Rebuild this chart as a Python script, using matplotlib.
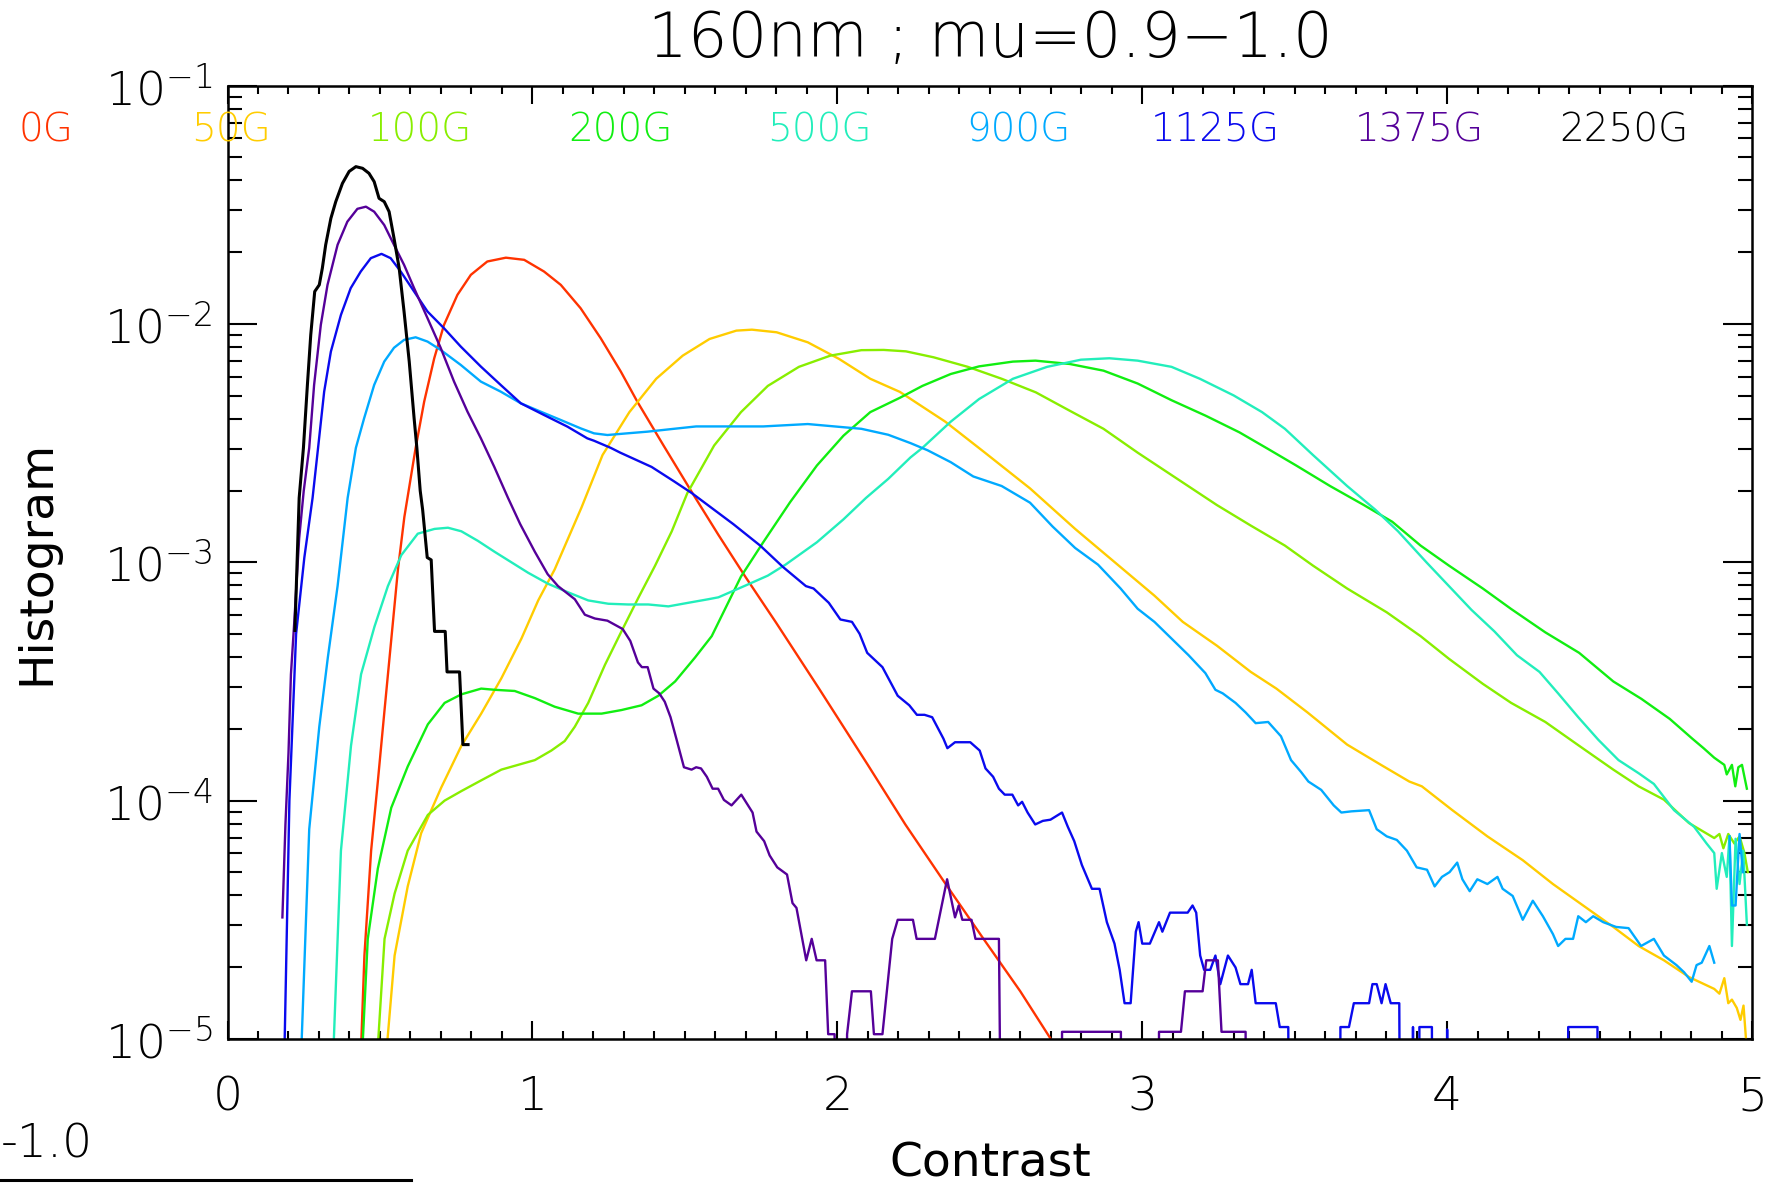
import numpy as np
import matplotlib
matplotlib.use("Agg")
import matplotlib.pyplot as plt
from matplotlib.ticker import MultipleLocator, LogLocator, FuncFormatter, NullFormatter
from matplotlib.lines import Line2D

plt.rcParams['font.family'] = ['DejaVu Sans']
plt.rcParams['font.weight'] = 'light'
plt.rcParams['mathtext.fontset'] = 'custom'
plt.rcParams['mathtext.rm'] = 'DejaVu Sans:light'
plt.rcParams['mathtext.default'] = 'rm'

# ---------------- data (x = contrast, logy = log10(histogram); -8 means empty bin) -------------
labels = ['0G', '50G', '100G', '200G', '500G', '900G', '1125G', '1375G', '2250G']
colors = ['#ff3300', '#ffcc00', '#88ee00', '#11ee11', '#22eebb', '#00aaff', '#0a0aee', '#550099', '#000000']

x_0G = [0.425, 0.449, 0.471, 0.493, 0.515, 0.537, 0.559, 0.580, 0.617, 0.645, 0.678, 0.710, 0.754, 0.798,
        0.852, 0.913, 0.973, 1.038, 1.093, 1.158, 1.224, 1.290, 1.344, 1.430, 1.523, 1.610, 1.698, 1.800,
        1.940, 2.100, 2.223, 2.350, 2.474, 2.600, 2.700, 2.750]
logy_0G = [-5.5, -4.65, -4.21, -3.92, -3.62, -3.325, -3.03, -2.81, -2.52, -2.326, -2.144, -2.004, -1.878, -1.794,
           -1.738, -1.722, -1.731, -1.78, -1.836, -1.934, -2.06, -2.20, -2.326, -2.51, -2.706, -2.885, -3.06, -3.255,
           -3.53, -3.85, -4.10, -4.34, -4.57, -4.80, -5.0, -5.1]

x_50G = [0.505, 0.548, 0.591, 0.635, 0.701, 0.767, 0.832, 0.898, 0.964, 1.019, 1.073, 1.117, 1.161, 1.230,
         1.318, 1.406, 1.493, 1.581, 1.669, 1.720, 1.801, 1.903, 2.006, 2.108, 2.205, 2.354, 2.484, 2.632,
         2.780, 2.910, 3.040, 3.133, 3.245, 3.356, 3.440, 3.542, 3.672, 3.783, 3.876, 3.917, 4.017, 4.132,
         4.248, 4.347, 4.446, 4.545, 4.628, 4.711, 4.793, 4.876, 4.893, 4.909, 4.922, 4.934, 4.950, 4.962,
         4.972, 4.983]
logy_50G = [-5.3, -4.65, -4.36, -4.137, -3.945, -3.77, -3.635, -3.487, -3.32, -3.16, -3.03, -2.90, -2.77, -2.55,
            -2.37, -2.23, -2.133, -2.063, -2.028, -2.024, -2.035, -2.077, -2.147, -2.23, -2.285, -2.41, -2.54, -2.69,
            -2.86, -3.0, -3.14, -3.25, -3.35, -3.46, -3.53, -3.63, -3.765, -3.85, -3.92, -3.94, -4.04, -4.15,
            -4.25, -4.35, -4.44, -4.53, -4.61, -4.67, -4.74, -4.79, -4.81, -4.745, -4.85, -4.835, -4.87, -4.92,
            -4.86, -5.05]

x_100G = [0.480, 0.515, 0.548, 0.591, 0.657, 0.712, 0.767, 0.832, 0.898, 0.953, 1.008, 1.062, 1.106, 1.139,
          1.183, 1.238, 1.292, 1.347, 1.402, 1.457, 1.508, 1.596, 1.684, 1.772, 1.874, 1.977, 2.079, 2.152,
          2.225, 2.316, 2.428, 2.539, 2.651, 2.762, 2.873, 2.985, 3.115, 3.245, 3.356, 3.468, 3.560, 3.672,
          3.802, 3.913, 4.006, 4.117, 4.210, 4.322, 4.433, 4.545, 4.628, 4.711, 4.793, 4.876, 4.893, 4.906,
          4.922, 4.942, 4.959, 4.975, 4.986]
logy_100G = [-5.3, -4.58, -4.39, -4.21, -4.06, -4.0, -3.96, -3.915, -3.87, -3.85, -3.83, -3.79, -3.75, -3.69,
             -3.59, -3.43, -3.29, -3.15, -3.015, -2.87, -2.71, -2.51, -2.37, -2.26, -2.18, -2.133, -2.11, -2.109,
             -2.115, -2.14, -2.18, -2.23, -2.287, -2.364, -2.44, -2.54, -2.65, -2.76, -2.846, -2.93, -3.014, -3.11,
             -3.21, -3.31, -3.405, -3.51, -3.59, -3.67, -3.77, -3.87, -3.94, -3.996, -4.094, -4.157, -4.14, -4.2,
             -4.14, -4.18, -4.15, -4.22, -4.30]

x_200G = [0.425, 0.460, 0.493, 0.537, 0.591, 0.657, 0.712, 0.767, 0.832, 0.876, 0.942, 1.008, 1.073, 1.150,
          1.227, 1.292, 1.358, 1.413, 1.468, 1.533, 1.588, 1.684, 1.757, 1.845, 1.933, 2.020, 2.108, 2.205,
          2.279, 2.372, 2.465, 2.576, 2.650, 2.762, 2.873, 2.985, 3.096, 3.208, 3.319, 3.412, 3.505, 3.616,
          3.727, 3.820, 3.913, 4.006, 4.117, 4.210, 4.322, 4.433, 4.545, 4.637, 4.730, 4.804, 4.841, 4.876,
          4.909, 4.917, 4.934, 4.945, 4.955, 4.967, 4.983]
logy_200G = [-5.5, -4.58, -4.285, -4.03, -3.857, -3.68, -3.59, -3.554, -3.53, -3.535, -3.54, -3.57, -3.606, -3.635,
             -3.635, -3.62, -3.60, -3.56, -3.50, -3.40, -3.31, -3.06, -2.916, -2.748, -2.594, -2.469, -2.37, -2.31,
             -2.26, -2.21, -2.178, -2.158, -2.154, -2.168, -2.196, -2.25, -2.32, -2.385, -2.455, -2.524, -2.594, -2.68,
             -2.76, -2.83, -2.93, -3.014, -3.11, -3.196, -3.294, -3.38, -3.50, -3.573, -3.657, -3.74, -3.78, -3.82,
             -3.85, -3.89, -3.85, -3.94, -3.86, -3.85, -3.95]

x_500G = [0.340, 0.372, 0.405, 0.438, 0.482, 0.526, 0.570, 0.624, 0.679, 0.723, 0.767, 0.821, 0.876, 0.931,
          0.986, 1.051, 1.117, 1.183, 1.249, 1.314, 1.380, 1.446, 1.511, 1.577, 1.610, 1.698, 1.772, 1.830,
          1.933, 2.020, 2.094, 2.167, 2.240, 2.279, 2.372, 2.465, 2.576, 2.688, 2.799, 2.892, 2.985, 3.096,
          3.189, 3.300, 3.393, 3.468, 3.560, 3.672, 3.765, 3.839, 3.932, 4.006, 4.080, 4.155, 4.229, 4.303,
          4.364, 4.430, 4.496, 4.562, 4.628, 4.678, 4.744, 4.810, 4.851, 4.876, 4.884, 4.901, 4.917, 4.926,
          4.934, 4.946, 4.959, 4.971, 4.983]
logy_500G = [-5.3, -4.21, -3.77, -3.47, -3.27, -3.10, -2.97, -2.88, -2.86, -2.855, -2.87, -2.91, -2.956, -3.0,
             -3.044, -3.09, -3.126, -3.16, -3.174, -3.177, -3.177, -3.185, -3.17, -3.155, -3.147, -3.098, -3.056, -3.01,
             -2.916, -2.82, -2.73, -2.65, -2.56, -2.52, -2.41, -2.315, -2.23, -2.18, -2.15, -2.144, -2.154, -2.18,
             -2.23, -2.30, -2.37, -2.44, -2.55, -2.68, -2.78, -2.87, -3.0, -3.10, -3.20, -3.29, -3.39, -3.46,
             -3.55, -3.65, -3.745, -3.83, -3.885, -3.93, -4.04, -4.11, -4.18, -4.22, -4.37, -4.22, -4.32, -4.15,
             -4.61, -4.16, -4.35, -4.21, -4.52]

x_900G = [0.235, 0.268, 0.301, 0.329, 0.361, 0.394, 0.421, 0.448, 0.481, 0.514, 0.546, 0.579, 0.617, 0.656,
          0.699, 0.765, 0.831, 0.896, 0.962, 1.027, 1.093, 1.158, 1.202, 1.246, 1.311, 1.377, 1.464, 1.537,
          1.669, 1.757, 1.903, 1.991, 2.079, 2.167, 2.240, 2.296, 2.372, 2.446, 2.539, 2.632, 2.706, 2.780,
          2.855, 2.929, 2.985, 3.040, 3.096, 3.152, 3.207, 3.240, 3.264, 3.306, 3.339, 3.372, 3.413, 3.455,
          3.488, 3.521, 3.545, 3.587, 3.628, 3.653, 3.686, 3.744, 3.769, 3.802, 3.835, 3.868, 3.900, 3.934,
          3.959, 3.983, 4.008, 4.033, 4.050, 4.074, 4.099, 4.132, 4.165, 4.182, 4.215, 4.248, 4.281, 4.314,
          4.347, 4.364, 4.388, 4.413, 4.430, 4.455, 4.479, 4.512, 4.554, 4.595, 4.636, 4.678, 4.711, 4.752,
          4.777, 4.802, 4.818, 4.835, 4.860, 4.876, np.nan, 4.926, 4.934, 4.946, 4.959, 4.970]
logy_900G = [-5.3, -4.12, -3.69, -3.40, -3.10, -2.73, -2.52, -2.396, -2.256, -2.158, -2.10, -2.067, -2.056, -2.074,
             -2.109, -2.172, -2.242, -2.284, -2.333, -2.368, -2.403, -2.438, -2.459, -2.466, -2.459, -2.452, -2.44, -2.43,
             -2.43, -2.43, -2.42, -2.43, -2.44, -2.465, -2.50, -2.53, -2.58, -2.64, -2.68, -2.75, -2.85, -2.94,
             -3.01, -3.11, -3.195, -3.25, -3.32, -3.39, -3.465, -3.535, -3.55, -3.59, -3.63, -3.675, -3.67, -3.73,
             -3.83, -3.88, -3.92, -3.955, -4.02, -4.05, -4.045, -4.04, -4.12, -4.15, -4.165, -4.21, -4.28, -4.29,
             -4.36, -4.32, -4.30, -4.26, -4.33, -4.38, -4.33, -4.35, -4.32, -4.37, -4.40, -4.50, -4.42, -4.485,
             -4.56, -4.61, -4.58, -4.58, -4.485, -4.51, -4.485, -4.51, -4.53, -4.535, -4.61, -4.58, -4.65, -4.69,
             -4.72, -4.76, -4.69, -4.68, -4.61, -4.68, np.nan, -4.15, -4.44, -4.44, -4.14, -4.30]

x_1125G = [0.186, 0.203, 0.225, 0.252, 0.279, 0.297, 0.317, 0.339, 0.372, 0.404, 0.437, 0.470, 0.505, 0.535,
           0.568, 0.612, 0.656, 0.710, 0.765, 0.831, 0.896, 0.962, 1.038, 1.115, 1.180, 1.202, 1.257, 1.288,
           1.391, 1.464, 1.523, 1.659, 1.747, 1.822, 1.897, 1.922, 1.972, 2.010, 2.048, 2.073, 2.098, 2.148,
           2.198, 2.236, 2.261, 2.286, 2.311, 2.348, 2.361, 2.386, 2.436, 2.467, 2.486, 2.511, 2.530, 2.549,
           2.574, 2.593, 2.606, 2.624, 2.649, 2.674, 2.699, 2.737, 2.756, 2.777, 2.802, 2.835, 2.860, 2.884,
           2.909, 2.926, 2.942, 2.962, 2.979, 2.988, 3.000, 3.025, 3.055, 3.066, 3.091, 3.149, 3.165, 3.177,
           3.190, 3.203, 3.223, 3.240, 3.256, 3.281, 3.306, 3.322, 3.347, 3.359, 3.372, 3.438, 3.451, 3.479,
           3.490, 3.640, 3.650, 3.678, 3.694, 3.744, 3.755, 3.769, 3.785, 3.798, 3.815, 3.843, 3.856, 3.880,
           3.888, 3.895, 3.905, 3.909, 3.950, 3.960, 3.990, 4.000, 4.010, 4.390, 4.397, 4.493, 4.500, 5.000]
logy_1125G = [-5.1, -4.0, -3.30, -2.98, -2.73, -2.52, -2.284, -2.116, -1.962, -1.85, -1.78, -1.724, -1.706, -1.724,
              -1.78, -1.864, -1.948, -2.018, -2.095, -2.179, -2.256, -2.333, -2.382, -2.431, -2.48, -2.49, -2.52, -2.54,
              -2.60, -2.66, -2.71, -2.84, -2.93, -3.02, -3.10, -3.11, -3.17, -3.24, -3.25, -3.30, -3.38, -3.44,
              -3.56, -3.60, -3.64, -3.64, -3.65, -3.74, -3.78, -3.755, -3.755, -3.79, -3.865, -3.90, -3.95, -3.975,
              -3.975, -4.02, -4.005, -4.05, -4.10, -4.085, -4.08, -4.05, -4.11, -4.17, -4.27, -4.37, -4.37, -4.51,
              -4.60, -4.71, -4.85, -4.85, -4.55, -4.51, -4.60, -4.60, -4.51, -4.55, -4.47, -4.47, -4.44, -4.47,
              -4.65, -4.71, -4.71, -4.65, -4.77, -4.65, -4.70, -4.77, -4.77, -4.71, -4.85, -4.85, -4.95, -4.95,
              -8, -8, -4.95, -4.95, -4.85, -4.85, -4.77, -4.77, -4.85, -4.77, -4.85, -4.85, -8, -8,
              -4.95, -8, -8, -4.95, -4.95, -8, -8, -4.96, -8, -8, -4.95, -4.95, -8, -8]

x_1375G = [0.180, 0.190, 0.200, 0.208, 0.219, 0.235, 0.250, 0.268, 0.284, 0.306, 0.328, 0.361, 0.393, 0.426,
           0.454, 0.481, 0.514, 0.546, 0.579, 0.612, 0.656, 0.699, 0.743, 0.787, 0.831, 0.875, 0.920, 0.960,
           1.008, 1.050, 1.084, 1.139, 1.172, 1.205, 1.246, 1.296, 1.321, 1.346, 1.359, 1.378, 1.397, 1.416,
           1.434, 1.453, 1.472, 1.497, 1.522, 1.537, 1.553, 1.572, 1.591, 1.609, 1.628, 1.653, 1.685, 1.722,
           1.735, 1.760, 1.778, 1.803, 1.835, 1.853, 1.866, 1.898, 1.916, 1.932, 1.960, 1.970, 1.991, 1.998,
           2.025, 2.032, 2.048, 2.110, 2.120, 2.148, 2.180, 2.198, 2.248, 2.260, 2.320, 2.360, 2.386, 2.398,
           2.410, 2.440, 2.453, 2.530, 2.555, 2.730, 2.737, 2.930, 2.937, 3.050, 3.055, 3.127, 3.140, 3.198,
           3.210, 3.248, 3.260, 3.339, 3.345]
logy_1375G = [-4.49, -4.10, -3.80, -3.47, -3.25, -2.90, -2.70, -2.52, -2.256, -2.004, -1.836, -1.668, -1.571, -1.517,
              -1.508, -1.529, -1.585, -1.668, -1.752, -1.85, -1.976, -2.10, -2.242, -2.368, -2.48, -2.60, -2.73, -2.84,
              -2.956, -3.05, -3.10, -3.155, -3.22, -3.236, -3.245, -3.28, -3.33, -3.42, -3.44, -3.44, -3.53, -3.55,
              -3.585, -3.65, -3.74, -3.86, -3.87, -3.86, -3.865, -3.90, -3.95, -3.95, -3.997, -4.02, -3.975, -4.05,
              -4.13, -4.17, -4.23, -4.28, -4.31, -4.43, -4.45, -4.67, -4.58, -4.67, -4.67, -4.98, -4.98, -8,
              -8, -4.98, -4.80, -4.80, -4.98, -4.98, -4.58, -4.50, -4.50, -4.58, -4.58, -4.33, -4.49, -4.44,
              -4.50, -4.50, -4.58, -4.58, -8, -8, -4.97, -4.97, -8, -8, -4.97, -4.97, -4.80, -4.80,
              -4.67, -4.67, -4.97, -4.97, -8]

x_2250G = [0.221, 0.235, 0.249, 0.262, 0.273, 0.286, 0.301, 0.311, 0.322, 0.339, 0.355, 0.377, 0.399, 0.421,
           0.443, 0.464, 0.481, 0.497, 0.514, 0.530, 0.546, 0.563, 0.579, 0.596, 0.612, 0.621, 0.632, 0.640,
           0.655, 0.668, 0.679, 0.714, 0.720, 0.761, 0.772, 0.789]
logy_2250G = [-3.286, -2.73, -2.52, -2.256, -2.046, -1.864, -1.836, -1.766, -1.668, -1.557, -1.487, -1.41, -1.36, -1.34,
              -1.347, -1.368, -1.403, -1.473, -1.487, -1.529, -1.64, -1.766, -1.948, -2.158, -2.396, -2.52, -2.70, -2.78,
              -2.98, -2.99, -3.29, -3.29, -3.46, -3.46, -3.765, -3.765]

series_x = [x_0G, x_50G, x_100G, x_200G, x_500G, x_900G, x_1125G, x_1375G, x_2250G]
series_logy = [logy_0G, logy_50G, logy_100G, logy_200G, logy_500G, logy_900G, logy_1125G, logy_1375G, logy_2250G]

xticks = [0, 1, 2, 3, 4, 5]
title = '160nm ; mu=0.9\u22121.0'

# ---------------- figure ----------------
fig = plt.figure(figsize=(17.9, 11.84), dpi=100)
ax = fig.add_axes([0.1271, 0.1225, 0.8517, 0.8052])

for xs, ly, c, lab in zip(series_x, series_logy, colors, labels):
    lw = 2.2 if lab == '2250G' else 1.7
    ax.plot(np.array(xs, dtype=float), 10.0 ** np.array(ly, dtype=float), color=c, lw=lw)

ax.set_yscale('log')
ax.set_xlim(0, 5)
ax.set_ylim(1e-5, 1e-1)

ax.xaxis.set_major_locator(MultipleLocator(1))
ax.xaxis.set_minor_locator(MultipleLocator(0.1))
ax.set_xticks(xticks)
ax.set_xticklabels([str(t) for t in xticks])
ax.yaxis.set_major_locator(LogLocator(base=10, numticks=10))
ax.yaxis.set_minor_locator(LogLocator(base=10, subs=range(2, 10), numticks=20))
ax.yaxis.set_major_formatter(FuncFormatter(lambda v, p: r'$\mathregular{10^{%d}}$' % int(round(np.log10(v)))))
ax.yaxis.set_minor_formatter(NullFormatter())

ax.tick_params(which='both', direction='in', top=True, right=True, width=1.5, labelsize=34, colors='black')
ax.xaxis.set_tick_params(which='major', length=13, pad=26)
ax.xaxis.set_tick_params(which='minor', length=6)
ax.yaxis.set_tick_params(which='major', length=21, pad=11)
ax.yaxis.set_tick_params(which='minor', length=10)
for sp in ax.spines.values():
    sp.set_linewidth(1.8)

ax.set_xlabel('Contrast', fontsize=34)
ax.xaxis.set_label_coords(0.5, -0.108)
ax.set_ylabel('Histogram', fontsize=34)
ax.yaxis.set_label_coords(-0.1105, 0.5)

fig.text(0.553, 0.966, title, ha='center', va='center', fontsize=45)

label_x = [0.0257, 0.129, 0.2346, 0.3464, 0.458, 0.569, 0.679, 0.793, 0.907]
for lx, lab, c in zip(label_x, labels, colors):
    fig.text(lx, 0.8894, lab, color=c, ha='center', va='center', fontsize=28)

# fragment of a neighbouring panel at the bottom left
fig.text(0.0005, 0.0335, '-1.0', ha='left', va='center', fontsize=34)
fig.add_artist(Line2D([0.0, 0.2296], [0.0034, 0.0034], color='black', lw=2.2, transform=fig.transFigure))

fig.savefig('out.png', dpi=100)
